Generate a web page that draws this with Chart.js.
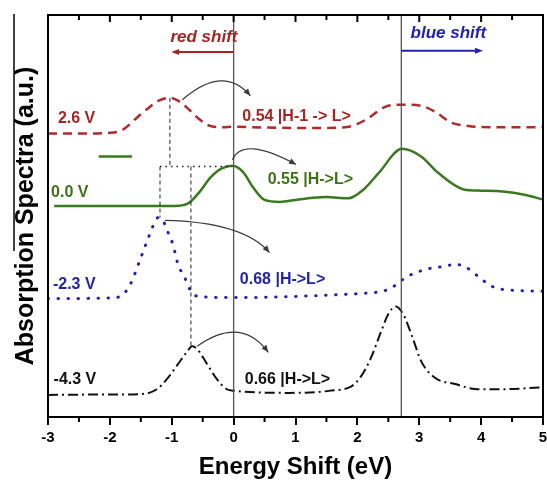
<!DOCTYPE html>
<html><head><meta charset="utf-8">
<script src="https://cdn.jsdelivr.net/npm/chart.js@4"></script>
<style>html,body{margin:0;padding:0;background:#fff}</style>
</head><body>
<canvas id="c" width="547" height="480"></canvas>
<script>
// ---- axis ranges / ticks ----
const xMin = -3, xMax = 5, xStep = 1;
const yMin = 0, yMax = 10;

// ---- series: 2.6 V (red dashed) ----
const red26X = [-3, -2.5, -2.0, -1.8, -1.56, -1.35, -1.19, -1.03, -0.88, -0.75, -0.55, -0.4, -0.18, 0, 0.5, 1.0, 1.5, 1.86, 2.13, 2.46, 2.71, 3.03, 3.26, 3.52, 3.79, 4.2, 5.0];
const red26Y = [7.05, 7.05, 7.07, 7.14, 7.45, 7.72, 7.88, 7.94, 7.85, 7.69, 7.40, 7.25, 7.21, 7.22, 7.20, 7.19, 7.19, 7.22, 7.39, 7.72, 7.77, 7.74, 7.59, 7.32, 7.24, 7.21, 7.21];
// ---- series: 0.0 V (green solid) ----
const grn00X = [-2.9, -1.5, -0.95, -0.75, -0.55, -0.38, -0.2, -0.02, 0.15, 0.32, 0.5, 0.75, 1.0, 1.5, 1.85, 2.1, 2.35, 2.72, 3.03, 3.3, 3.72, 4.0, 4.35, 4.7, 5.0];
const grn00Y = [5.25, 5.25, 5.25, 5.30, 5.60, 5.95, 6.18, 6.25, 6.10, 5.70, 5.40, 5.35, 5.40, 5.47, 5.44, 5.66, 6.08, 6.67, 6.48, 6.08, 5.66, 5.63, 5.61, 5.53, 5.41];
// ---- series: -2.3 V (blue dotted) ----
const blu23X = [-3, -2.5, -2.0, -1.83, -1.67, -1.51, -1.4, -1.27, -1.22, -1.15, -1.06, -0.98, -0.9, -0.79, -0.71, -0.58, 0, 1.0, 1.8, 2.13, 2.46, 2.62, 2.78, 3.1, 3.42, 3.58, 3.76, 3.95, 4.14, 4.32, 5.0];
const blu23Y = [2.95, 2.95, 2.96, 3.0, 3.30, 3.92, 4.37, 4.86, 4.96, 4.91, 4.59, 4.29, 3.80, 3.47, 3.18, 3.0, 2.97, 3.0, 3.05, 3.08, 3.15, 3.28, 3.47, 3.67, 3.75, 3.80, 3.72, 3.50, 3.28, 3.18, 3.13];
// ---- series: -4.3 V (black dash-dot) ----
const blk43X = [-3, -2.0, -1.5, -1.24, -1.08, -0.92, -0.76, -0.67, -0.59, -0.43, -0.27, -0.11, 0.02, 0.9, 1.54, 1.91, 2.05, 2.21, 2.38, 2.5, 2.62, 2.74, 2.9, 3.03, 3.26, 3.58, 3.95, 4.32, 5.0];
const blk43Y = [0.55, 0.56, 0.57, 0.69, 0.94, 1.27, 1.61, 1.76, 1.69, 1.32, 0.94, 0.69, 0.65, 0.60, 0.65, 0.77, 0.99, 1.44, 2.11, 2.56, 2.75, 2.56, 1.94, 1.39, 0.97, 0.82, 0.69, 0.69, 0.74];

// ---- reference lines / guides (data units) ----
const refLinesX = [0, 2.71];
const guideDashed = [ // [x0,y0,x1,y1]
  [-1.03, 7.94, -1.03, 6.23],
  [-1.19, 6.23, -1.19, 4.96],
  [-0.69, 6.23, -0.69, 1.76]
];
const guideDotted = [[-1.19, 6.23, -0.02, 6.23]];
const greenMark = [-2.18, 6.48, -1.64, 6.48];

// ---- curved arrows [x0,y0, cx,cy, x1,y1] ----
const curvedArrows = [
  [-0.83, 7.89, -0.16, 8.78, 0.27, 7.99],
  [-0.02, 6.40, 0.15, 7.00, 1.01, 6.28],
  [-1.11, 4.89, 0.15, 4.85, 0.58, 4.09],
  [-0.59, 1.76, 0.115, 2.53, 0.56, 1.61]
];
// ---- shift arrows [x0, x1, y, color] ----
const shiftArrows = [
  [0, -1.01, 9.08, '#a82424'],
  [2.71, 4.03, 9.11, '#2323b0']
];
// ---- text labels [text, x, y, color, align, italic, size] ----
const labels = [
  ['red shift', -0.48, 9.45, '#a82424', 'center', true, 17],
  ['blue shift', 3.47, 9.55, '#2323b0', 'center', true, 17],
  ['2.6 V', -2.84, 7.42, '#a82424', 'left', false, 16],
  ['0.54 |H-1 -> L>', 0.14, 7.47, '#a82424', 'left', false, 16],
  ['0.0 V', -2.95, 5.58, '#3d7316', 'left', false, 16],
  ['0.55 |H->L>', 0.55, 5.91, '#3d7316', 'left', false, 16],
  ['-2.3 V', -2.92, 3.30, '#2323a8', 'left', false, 16],
  ['0.68 |H->L>', 0.10, 3.42, '#2323a8', 'left', false, 16],
  ['-4.3 V', -2.91, 0.94, '#111111', 'left', false, 16],
  ['0.66 |H->L>', 0.18, 0.92, '#111111', 'left', false, 16]
];

const FAM = "'Liberation Sans', Arial, sans-serif";
Chart.defaults.font.family = FAM;

const pts = (xs, ys) => xs.map((v, i) => ({x: v, y: ys[i]}));
const seg = s => [{x: s[0], y: s[1]}, {x: s[2], y: s[3]}];

const datasets = [];
refLinesX.forEach(v => datasets.push({data: [{x: v, y: yMin}, {x: v, y: yMax}], borderColor: '#555', borderWidth: 1.3, pointRadius: 0, tension: 0}));
guideDashed.forEach(s => datasets.push({data: seg(s), borderColor: '#222', borderWidth: 1, borderDash: [4, 3], pointRadius: 0, tension: 0}));
guideDotted.forEach(s => datasets.push({data: seg(s), borderColor: '#222', borderWidth: 1.6, borderDash: [1.5, 4], pointRadius: 0, tension: 0}));
datasets.push({data: seg(greenMark), borderColor: '#3a7a1f', borderWidth: 2.5, pointRadius: 0, tension: 0});
datasets.push({label: '2.6 V', data: pts(red26X, red26Y), borderColor: '#b02a2a', borderWidth: 2.5, borderDash: [9, 6], pointRadius: 0, cubicInterpolationMode: 'monotone'});
datasets.push({label: '0.0 V', data: pts(grn00X, grn00Y), borderColor: '#3a7a1f', borderWidth: 2.5, pointRadius: 0, cubicInterpolationMode: 'monotone'});
datasets.push({label: '-2.3 V', data: pts(blu23X, blu23Y), borderColor: '#2424a8', borderWidth: 3, borderDash: [0.5, 9.5], borderCapStyle: 'round', pointRadius: 0, cubicInterpolationMode: 'monotone'});
datasets.push({label: '-4.3 V', data: pts(blk43X, blk43Y), borderColor: '#111', borderWidth: 2, borderDash: [10, 4, 2, 4], pointRadius: 0, cubicInterpolationMode: 'monotone'});

function head(ctx, x1, y1, ang, len, w) {
  const c = Math.cos(ang), s = Math.sin(ang);
  ctx.beginPath();
  ctx.moveTo(x1, y1);
  ctx.lineTo(x1 - len * c + w * s, y1 - len * s - w * c);
  ctx.lineTo(x1 - len * c - w * s, y1 - len * s + w * c);
  ctx.closePath();
  ctx.fill();
}

const decor = {
  id: 'decor',
  afterDatasetsDraw(chart) {
    const {ctx, chartArea: a, scales: {x, y}} = chart;
    ctx.save();
    // frame
    ctx.strokeStyle = '#000'; ctx.lineWidth = 2;
    ctx.strokeRect(a.left, a.top, a.right - a.left, a.bottom - a.top);
    // ticks: top (inward) and minor bottom (outward)
    const tv = x.ticks.map(t => t.value);
    tv.forEach((v, i) => {
      const p = x.getPixelForValue(v);
      ctx.beginPath(); ctx.moveTo(p, a.top); ctx.lineTo(p, a.top + 7); ctx.stroke();
      if (i < tv.length - 1) {
        const m = x.getPixelForValue((v + tv[i + 1]) / 2);
        ctx.beginPath();
        ctx.moveTo(m, a.top); ctx.lineTo(m, a.top + 5);
        ctx.moveTo(m, a.bottom); ctx.lineTo(m, a.bottom + 5);
        ctx.stroke();
      }
    });
    // stray crop line at far left
    ctx.lineWidth = 1.5;
    ctx.beginPath(); ctx.moveTo(14, a.top - 1); ctx.lineTo(14, 251); ctx.stroke();
    // curved arrows
    ctx.strokeStyle = '#3a3a3a'; ctx.fillStyle = '#3a3a3a'; ctx.lineWidth = 1.2;
    curvedArrows.forEach(r => {
      const p0x = x.getPixelForValue(r[0]), p0y = y.getPixelForValue(r[1]);
      const cx = x.getPixelForValue(r[2]), cy = y.getPixelForValue(r[3]);
      const p1x = x.getPixelForValue(r[4]), p1y = y.getPixelForValue(r[5]);
      ctx.beginPath(); ctx.moveTo(p0x, p0y); ctx.quadraticCurveTo(cx, cy, p1x, p1y); ctx.stroke();
      head(ctx, p1x, p1y, Math.atan2(p1y - cy, p1x - cx), 7, 3);
    });
    // shift arrows
    shiftArrows.forEach(r => {
      const a0 = x.getPixelForValue(r[0]), a1 = x.getPixelForValue(r[1]), py = y.getPixelForValue(r[2]);
      ctx.strokeStyle = r[3]; ctx.fillStyle = r[3]; ctx.lineWidth = 2;
      const dir = Math.sign(a1 - a0);
      ctx.beginPath(); ctx.moveTo(a0, py); ctx.lineTo(a1 - dir * 5, py); ctx.stroke();
      head(ctx, a1, py, dir > 0 ? 0 : Math.PI, 8, 3);
    });
    // text labels
    ctx.textBaseline = 'middle';
    labels.forEach(l => {
      ctx.font = (l[5] ? 'italic ' : '') + 'bold ' + l[6] + 'px ' + FAM;
      ctx.fillStyle = l[3]; ctx.textAlign = l[4];
      ctx.fillText(l[0], x.getPixelForValue(l[1]), y.getPixelForValue(l[2]));
    });
    ctx.restore();
  }
};

new Chart(document.getElementById('c'), {
  type: 'line',
  data: {datasets},
  options: {
    responsive: false,
    animation: false,
    events: [],
    layout: {padding: {left: 0, right: 4, top: 15, bottom: 0}},
    plugins: {legend: {display: false}, tooltip: {enabled: false}},
    scales: {
      x: {
        type: 'linear', min: xMin, max: xMax,
        afterFit: s => { s.height = 63; s.paddingLeft = 0; s.paddingRight = 0; },
        ticks: {stepSize: xStep, color: '#000', font: {size: 15, weight: 'bold'}, padding: 4, maxRotation: 0},
        grid: {display: true, drawOnChartArea: false, drawTicks: true, tickLength: 8, color: '#000', lineWidth: 2},
        border: {display: true, color: '#000', width: 2},
        title: {display: true, text: 'Energy Shift (eV)', color: '#000', font: {size: 24, weight: 'bold', lineHeight: 1}, padding: {top: 0, bottom: 0.5}}
      },
      y: {
        type: 'linear', min: yMin, max: yMax,
        afterFit: s => { s.width = 48; },
        ticks: {display: false},
        grid: {display: false},
        border: {display: true, color: '#000', width: 2},
        title: {display: true, text: 'Absorption Spectra (a.u.)', color: '#000', font: {size: 25, weight: 'bold', lineHeight: 1}, padding: {top: 13.5, bottom: 0}}
      }
    }
  },
  plugins: [decor]
});
</script>
</body></html>
